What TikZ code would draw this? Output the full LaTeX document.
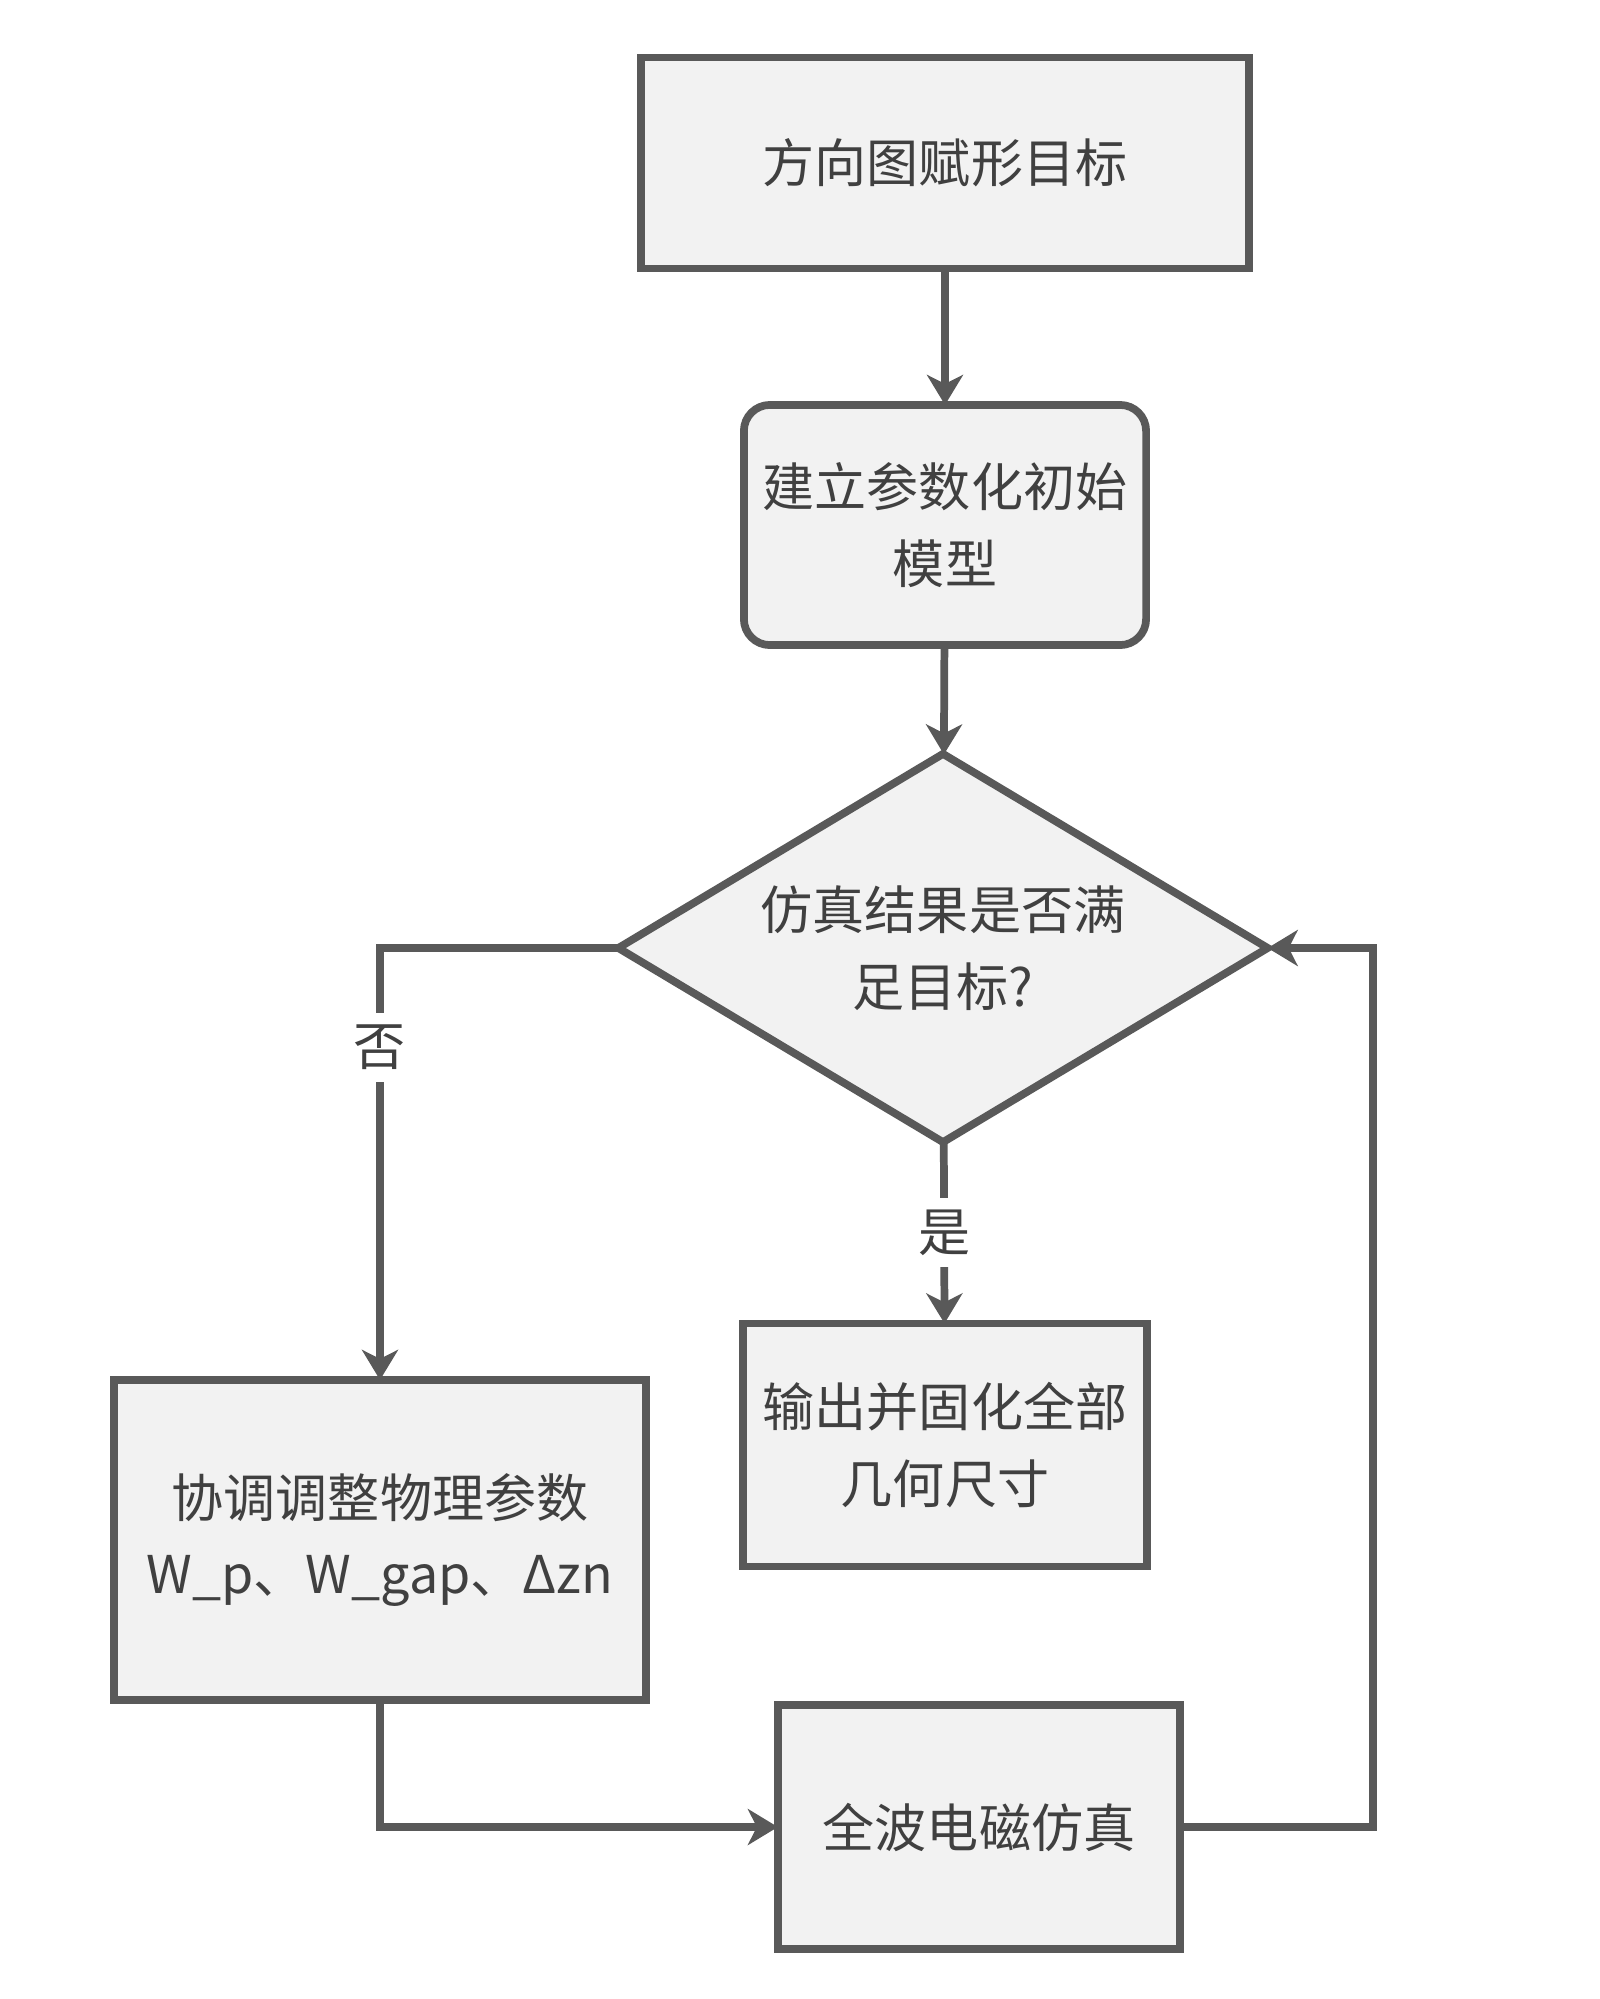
\documentclass[tikz,border=0pt]{standalone}
\usepackage{fontspec}
\setmainfont{Noto Sans CJK SC}
\usetikzlibrary{arrows.meta,shapes.geometric}
\definecolor{linegray}{HTML}{595959}
\definecolor{boxgray}{HTML}{F2F2F2}
\definecolor{textgray}{HTML}{404040}
\tikzset{
	box/.style={rectangle, draw=linegray, fill=boxgray, line width=2.2pt, inner sep=0pt, outer sep=0pt, align=center, text=textgray, font=\fontsize{14.8}{21.8}\selectfont},
	roundbox/.style={box, rounded corners=0.26cm},
	decision/.style={box, diamond, aspect=1.67},
	link/.style={draw=linegray, line width=2.2pt, -{Stealth[length=0.3cm, width=0.36cm, inset=0.09cm]}},
	tag/.style={fill=white, inner sep=0.12cm, text=textgray, font=\fontsize{14.8}{21.8}\selectfont}
}
\begin{document}
\begin{tikzpicture}[x=0.01cm, y=-0.01cm]
			%%%%% START %%%%%
			
			\useasboundingbox (0, 0) rectangle (1600, 1999);
			
			\node[box, minimum width=6.08cm, minimum height=2.11cm] (goal) at (945, 163) {方向图赋形目标};
			\node[roundbox, minimum width=4.02cm, minimum height=2.40cm] (model) at (945, 525) {建立参数化初始\\模型};
			\node[decision, minimum width=6.49cm, minimum height=3.88cm] (check) at (943, 948) {仿真结果是否满\\足目标?};
			\node[box, minimum width=4.04cm, minimum height=2.43cm] (output) at (945, 1445) {输出并固化全部\\几何尺寸};
			\node[box, minimum width=5.31cm, minimum height=3.20cm] (adjust) at (380, 1540) {协调调整物理参数\\W\_p、W\_gap、Δzn};
			\node[box, minimum width=4.02cm, minimum height=2.44cm] (sim) at (979, 1827) {全波电磁仿真};
			
			\coordinate (turn) at (1373, 1827);
			
			\draw[link] (goal) -- (model);
			\draw[link] (model) -- (check);
			\draw[link] (check) -- node[tag] {是} (output);
			\draw[link] (check.west) -| node[tag, pos=0.615] {否} (adjust);
			\draw[link] (adjust) |- (sim);
			\draw[link] (sim.east) -- (turn) |- (check.east);
			
			%%%%% END %%%%%
\end{tikzpicture}
\end{document}
